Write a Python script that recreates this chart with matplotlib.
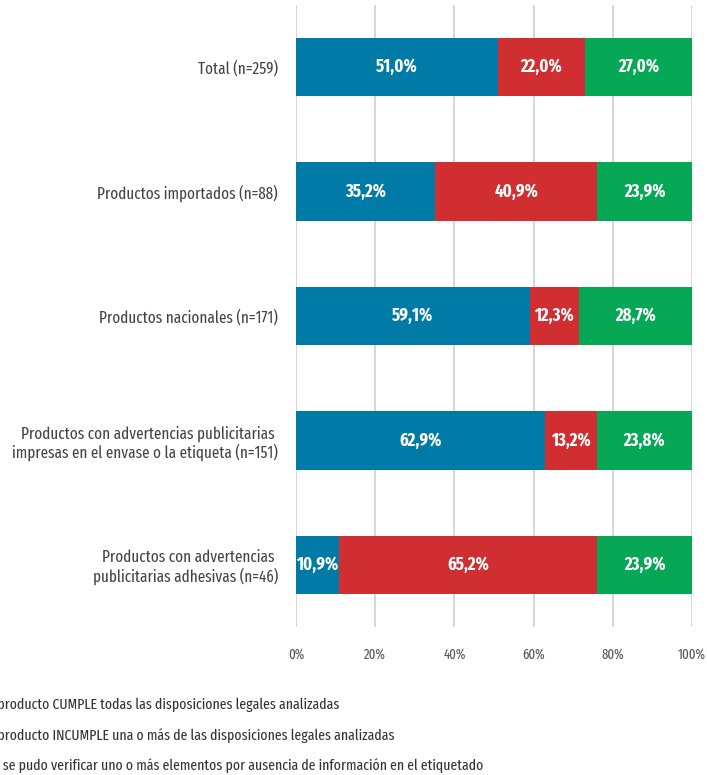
import matplotlib.pyplot as plt
import numpy as np
from matplotlib.patches import Patch

categories = [
    "Total (n=259)",
    "Productos importados (n=88)",
    "Productos nacionales (n=171)",
    "Productos con advertencias publicitarias \nimpresas en el envase o la etiqueta (n=151)",
    "Productos con advertencias \npublicitarias adhesivas (n=46)",
]
cumple = [51.0, 35.2, 59.1, 62.9, 10.9]
incumple = [22.0, 40.9, 12.3, 13.2, 65.2]
no_verif = [27.0, 23.9, 28.7, 23.8, 23.9]
series_names = [
    "El producto CUMPLE todas las disposiciones legales analizadas",
    "El producto INCUMPLE una o más de las disposiciones legales analizadas",
    "No se pudo verificar uno o más elementos por ausencia de información en el etiquetado",
]
colors = ["#007BA7", "#D02E30", "#06A855"]
xticks = [0, 20, 40, 60, 80, 100]

plt.rcParams["font.family"] = ["Fira Sans Extra Condensed", "Fira Sans Condensed", "DejaVu Sans"]

fig = plt.figure(figsize=(7.07, 7.75), dpi=100)
ax = fig.add_axes([0.4187, 0.191, 0.56, 0.8025])

y = np.arange(len(categories))
left = np.zeros(len(categories))
for vals, color in zip([cumple, incumple, no_verif], colors):
    vals = np.array(vals)
    ax.barh(y, vals, left=left, height=0.47, color=color, zorder=3)
    for yi, l, v in zip(y, left, vals):
        ax.text(l + v / 2, yi, f"{v:.1f}%".replace(".", ","), ha="center", va="center",
                color="white", fontsize=13, fontweight="bold", zorder=4)
    left += vals

ax.set_xlim(0, 100)
ax.set_ylim(4.5, -0.5)
ax.set_yticks(y)
ax.set_yticklabels(categories, fontsize=11.8, color="#444444", ha="right", multialignment="right",
                   linespacing=1.15)
ax.set_xticks(xticks)
ax.set_xticklabels([f"{t}%" for t in xticks], fontsize=10, color="#555555")
ax.tick_params(axis="both", length=0)
ax.tick_params(axis="x", pad=15)
ax.tick_params(axis="y", pad=13)
ax.grid(axis="x", color="#D0D0D0", linewidth=1.2, zorder=0)
for s in ax.spines.values():
    s.set_visible(False)

# legend swatches and "El"/"No" sit past the left edge, as in the original
handles = [Patch(color=c) for c in colors]
fig.legend(handles, series_names, loc="upper left", bbox_to_anchor=(-0.069, 0.117),
           frameon=False, fontsize=10.8, labelcolor="#333333", handlelength=0.8,
           handleheight=0.8, handletextpad=0.5, labelspacing=1.05)

fig.savefig("out.png", dpi=100)
